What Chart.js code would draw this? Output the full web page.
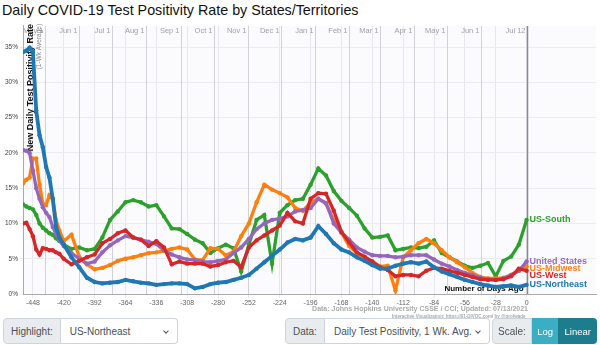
<!DOCTYPE html>
<html lang="en">
<head>
<meta charset="UTF-8">
<title>Daily COVID-19 Test Positivity Rate by States/Territories</title>
<style>
    body {
        margin: 0;
        width: 600px;
        height: 345px;
        overflow: hidden;
        background: #fff;
        position: relative;
        font-family: 'Liberation Sans', Arial, sans-serif;
    }

    h1 {
        position: absolute;
        left: 2px;
        top: 2px;
        margin: 0;
        font-size: 14.3px;
        font-weight: normal;
        color: #111;
        white-space: nowrap;
    }

    #chartBox {
        position: absolute;
        left: 0;
        top: 20px;
        width: 600px;
        height: 302px;
    }

    /* credits under the plot */
    .credit {
        position: absolute;
        right: 72px;
        text-align: right;
        color: #aaa;
        font-weight: bold;
        white-space: nowrap;
    }

    /* bottom controls */
    .grp {
        position: absolute;
        top: 318px;
        height: 26px;
        display: flex;
        font-size: 10px;
        color: #495057;
    }
    .lab {
        background: #e9ecef;
        border: 1px solid #ced4da;
        border-radius: 4px 0 0 4px;
        padding: 0 7px;
        display: flex;
        align-items: center;
    }
    .sel {
        flex: 1;
        background: #fff;
        border: 1px solid #ced4da;
        border-left: none;
        border-radius: 0 4px 4px 0;
        display: flex;
        align-items: center;
        padding: 0 9px;
        position: relative;
    }
    .sel::after {
        content: '';
        position: absolute;
        right: 9px;
        top: 10px;
        width: 3px;
        height: 3px;
        border-right: 1px solid #555;
        border-bottom: 1px solid #555;
        transform: rotate(45deg);
    }
    .btn {
        color: #fff;
        display: flex;
        align-items: center;
        justify-content: center;
        box-sizing: border-box;
        font-size: 9.5px;
    }
    .log { background: #3aaec3; width: 29px; }
    .lin { background: #1e7d8c; width: 42px; border-radius: 0 4px 4px 0; }
</style>
<script src="https://cdn.jsdelivr.net/npm/chart.js"></script>
</head>
<body>
    <h1>Daily COVID-19 Test Positivity Rate by States/Territories</h1>

    <div id="chartBox"><canvas id="positivityChart" width="600" height="302"></canvas></div>

    <div class="credit" style="top:305px;font-size:7px;">Data: Johns Hopkins University CSSE / CCI; Updated: 07/13/2021</div>
    <div class="credit" style="top:314px;font-size:4.5px;">Interactive Visualization: https://91-DIVOC.com/ by @profwade_</div>

    <div class="grp" style="left:3px;width:175px;">
        <span class="lab">Highlight:</span><span class="sel">US-Northeast</span>
    </div>
    <div class="grp" style="left:285px;width:205px;">
        <span class="lab">Data:</span><span class="sel">Daily Test Positivity, 1 Wk. Avg.</span>
    </div>
    <div class="grp" style="left:492px;width:105px;">
        <span class="lab" style="padding:0 5px;">Scale:</span><span class="btn log">Log</span><span class="btn lin">Linear</span>
    </div>

<script>
// days before 2021-07-12 (denser at the start, weekly afterwards)
const days = [-457, -454, -451, -448, -445, -442, -439, -436, -433, -430, -427, -424,
    -420, -413, -406, -399, -392, -385, -378, -371, -364, -357, -350, -343, -336, -329,
    -322, -315, -308, -301, -294, -287, -280, -273, -266, -259, -252, -245, -238, -231,
    -224, -217, -210, -203, -196, -189, -182, -175, -168, -161, -154, -147, -140, -133,
    -126, -119, -112, -105, -98, -91, -84, -77, -70, -63, -56, -49, -42, -35, -28, -21,
    -14, -7, 0];

// test positivity, %, 1 week average
const northeast = [34.3, 34.5, 34.9, 34.3, 26.0, 22.5, 20.8, 18.0, 16.5, 13.5, 9.5, 8.0,
    7.0, 5.2, 3.8, 2.3, 1.7, 1.5, 1.6, 1.7, 2.0, 1.8, 1.6, 1.5, 1.3, 1.4,
    1.5, 1.5, 1.4, 0.8, 1.0, 1.4, 1.6, 1.7, 2.0, 2.3, 2.7, 3.6, 4.5, 5.4,
    6.3, 7.3, 7.8, 7.6, 8.0, 9.6, 8.5, 7.2, 6.3, 5.9, 5.2, 4.7, 4.1, 3.6,
    3.6, 4.0, 4.3, 4.5, 4.3, 4.6, 3.8, 3.2, 2.8, 2.4, 2.0, 1.7, 1.4, 1.2, 1.0, 1.1,
    1.2, 1.0, 1.3];

const unitedStates = [20.4, 20.3, 20.0, 17.5, 15.0, 13.5, 12.3, 11.5, 10.9, 9.5, 8.5, 7.6,
    6.8, 5.8, 5.0, 4.3, 4.6, 5.9, 6.9, 7.6, 8.2, 8.0, 7.7, 7.4, 7.1, 6.2,
    5.6, 5.2, 4.9, 4.8, 4.6, 4.5, 4.7, 4.9, 5.8, 6.6, 7.8, 9.2, 10.0, 10.5,
    10.7, 11.0, 11.7, 11.9, 12.2, 13.5, 12.9, 10.0, 8.7, 7.7, 6.6, 6.0, 5.5, 5.4,
    5.4, 5.2, 5.3, 5.5, 5.5, 5.5, 4.9, 4.3, 3.9, 3.4, 3.0, 2.7, 2.3, 2.1, 2.0, 2.2,
    2.7, 3.3, 4.6];

const midwest = [15.7, 16.2, 16.5, 19.2, 19.2, 15.5, 12.8, 12.6, 14.0, 13.5, 10.5, 9.0,
    7.5, 8.4, 5.3, 4.2, 3.5, 3.7, 4.1, 4.7, 5.0, 5.2, 5.5, 5.8, 5.9, 6.1,
    6.4, 6.6, 6.3, 4.9, 4.8, 6.5, 6.4, 5.5, 6.0, 8.2, 10.0, 13.0, 15.5, 14.8,
    14.3, 13.7, 12.2, 11.8, 13.0, 13.5, 12.8, 10.5, 8.7, 6.8, 5.8, 5.2, 4.6, 3.9,
    4.0, 0.5, 5.2, 6.2, 7.2, 7.8, 7.2, 6.2, 5.2, 4.5, 3.8, 3.0, 2.4, 2.2, 2.2, 2.3,
    2.7, 3.3, 3.9];

const south = [12.7, 12.4, 12.2, 12.0, 11.2, 10.0, 9.4, 9.0, 8.6, 8.4, 7.9, 7.5,
    7.0, 6.4, 6.6, 6.2, 6.4, 8.0, 10.5, 11.7, 13.0, 13.3, 13.0, 12.4, 12.6, 11.0,
    9.3, 9.2, 8.5, 7.7, 7.2, 5.8, 6.5, 7.0, 6.5, 3.2, 7.0, 10.5, 11.2, 4.3,
    11.5, 12.6, 13.3, 13.5, 15.5, 17.8, 16.8, 14.6, 13.2, 12.2, 11.1, 9.3, 8.0, 8.1,
    8.3, 6.2, 6.4, 6.6, 6.5, 6.7, 7.6, 5.8, 5.2, 4.6, 4.0, 3.7, 4.0, 4.4, 2.5, 4.7,
    5.3, 7.0, 10.5];

const west = [10.0, 10.1, 9.2, 8.2, 6.3, 5.6, 6.5, 6.4, 6.2, 6.2, 5.9, 5.7,
    5.0, 4.2, 4.7, 5.2, 5.6, 7.2, 7.8, 8.6, 9.0, 8.0, 7.7, 6.8, 7.5, 6.6,
    4.2, 4.6, 4.3, 4.3, 4.3, 3.9, 4.1, 4.5, 4.7, 3.8, 6.6, 7.6, 8.3, 9.0,
    9.7, 11.5, 10.3, 10.0, 13.5, 14.3, 14.2, 11.8, 8.8, 7.3, 5.9, 5.3, 4.6, 3.8,
    3.4, 2.5, 2.7, 2.7, 2.5, 3.3, 3.7, 3.6, 3.3, 3.0, 2.7, 2.4, 2.1, 2.0, 2.0, 2.1,
    2.5, 3.6, 3.3];

// top axis: month starts and the last day
const monthDates = ['2020-05-01', '2020-06-01', '2020-07-01', '2020-08-01', '2020-09-01',
    '2020-10-01', '2020-11-01', '2020-12-01', '2021-01-01', '2021-02-01', '2021-03-01',
    '2021-04-01', '2021-05-01', '2021-06-01', '2021-07-12'];
const monthLabels = ['May 1', 'Jun 1', 'Jul 1', 'Aug 1', 'Sep 1', 'Oct 1', 'Nov 1', 'Dec 1',
    'Jan 1', 'Feb 1', 'Mar 1', 'Apr 1', 'May 1', 'Jun 1', 'Jul 12'];
const lastDate = '2021-07-12';

const series = [
    { label: 'US-Northeast', color: '#1f77b4', values: northeast, width: 3.8 },
    { label: 'US-West', color: '#d62728', values: west, width: 3.3 },
    { label: 'United States', color: '#9467bd', values: unitedStates, width: 3.3 },
    { label: 'US-Midwest', color: '#ff7f0e', values: midwest, width: 3.3 },
    { label: 'US-South', color: '#2ca02c', values: south, width: 3.3 }
];

const FONT = "'Liberation Sans', Arial, sans-serif";

// month grid lines + labels drawn inside the plot
const monthAxis = {
    id: 'monthAxis',
    beforeDatasetsDraw(chart) {
        const { ctx, chartArea, scales } = chart;
        const end = Date.parse(lastDate);
        ctx.save();
        ctx.font = '7.5px ' + FONT;
        ctx.textAlign = 'right';
        ctx.textBaseline = 'middle';
        monthDates.forEach((d, i) => {
            const day = (Date.parse(d) - end) / 86400000;
            const x = Math.round(scales.x.getPixelForValue(day)) + 0.5;
            const last = i === monthDates.length - 1;
            ctx.strokeStyle = last ? '#8a86a0' : '#d2d2d6';
            ctx.lineWidth = last ? 1.5 : 1;
            ctx.beginPath();
            ctx.moveTo(x, chartArea.top);
            ctx.lineTo(x, chartArea.bottom);
            ctx.stroke();
            ctx.fillStyle = '#a0a0a8';
            ctx.fillText(monthLabels[i], x - 2, chartArea.top + 5.5);
        });

        // axis titles, sitting under the lines
        ctx.fillStyle = '#111';
        ctx.font = 'bold 8px ' + FONT;
        ctx.textAlign = 'right';
        ctx.fillText('Number of Days Ago', scales.x.getPixelForValue(0) - 3, chartArea.bottom - 5);

        ctx.font = 'bold 9px ' + FONT;
        ctx.translate(chartArea.left + 8, chartArea.top - 2);
        ctx.rotate(-Math.PI / 2);
        ctx.fillText('New Daily Test Positivity Rate', 0, 0);
        ctx.font = '6.5px ' + FONT;
        ctx.fillStyle = '#888';
        ctx.fillText('(1-Wk Average)', 0, 8);
        ctx.restore();
    }
};

// series names at the end of each line
const endLabels = {
    id: 'endLabels',
    afterDatasetsDraw(chart) {
        const { ctx } = chart;
        const items = chart.data.datasets.map((ds, i) => {
            const pts = chart.getDatasetMeta(i).data;
            const p = pts[pts.length - 1];
            return { text: ds.label, color: ds.borderColor, x: p.x, y: p.y };
        }).sort((a, b) => a.y - b.y);
        for (let i = 1; i < items.length; i++) {
            if (items[i].y - items[i - 1].y < 7) items[i].y = items[i - 1].y + 7;
        }
        ctx.save();
        ctx.font = 'bold 9px ' + FONT;
        ctx.textBaseline = 'middle';
        items.forEach(it => {
            ctx.fillStyle = it.color;
            ctx.fillText(it.text, it.x + 3, it.y);
        });
        ctx.restore();
    }
};

const plotBg = {
    id: 'plotBg',
    beforeDraw(chart) {
        const { ctx, chartArea } = chart;
        ctx.save();
        ctx.fillStyle = '#fbfbfd';
        ctx.fillRect(chartArea.left, chartArea.top, chartArea.right - chartArea.left, chartArea.bottom - chartArea.top);
        ctx.restore();
    }
};

const ctx = document.getElementById('positivityChart').getContext('2d');
new Chart(ctx, {
    type: 'line',
    data: {
        datasets: series.map(s => ({
            label: s.label,
            data: days.map((d, i) => ({ x: d, y: s.values[i] })),
            borderColor: s.color,
            backgroundColor: s.color,
            borderWidth: s.width,
            pointRadius: 2.2,
            pointBorderWidth: 0,
            pointBackgroundColor: s.color,
            tension: 0
        }))
    },
    options: {
        responsive: false,
        animation: false,
        layout: { padding: { top: 3, right: 3 } },
        plugins: { legend: { display: false }, tooltip: { enabled: false } },
        scales: {
            x: {
                type: 'linear',
                min: -457,
                max: 63,
                afterFit(scale) { scale.height = 28; },
                afterBuildTicks(scale) {
                    scale.ticks = scale.ticks.filter(t => t.value <= 0 && t.value >= -448);
                },
                ticks: {
                    stepSize: 28,
                    includeBounds: false,
                    autoSkip: false,
                    maxRotation: 0,
                    color: '#666',
                    font: { size: 7, family: FONT },
                    padding: 1
                },
                grid: { color: '#e8e8ec', tickLength: 4 },
                border: { color: '#aaa' }
            },
            y: {
                min: 0,
                max: 38,
                afterFit(scale) { scale.width = 23; },
                ticks: {
                    stepSize: 5,
                    includeBounds: false,
                    color: '#444',
                    font: { size: 6.5, family: FONT },
                    padding: 2,
                    callback: v => v + '%'
                },
                grid: { color: '#ececf0', tickLength: 3 },
                border: { color: '#aaa' }
            }
        }
    },
    plugins: [plotBg, monthAxis, endLabels]
});
</script>
</body>
</html>
